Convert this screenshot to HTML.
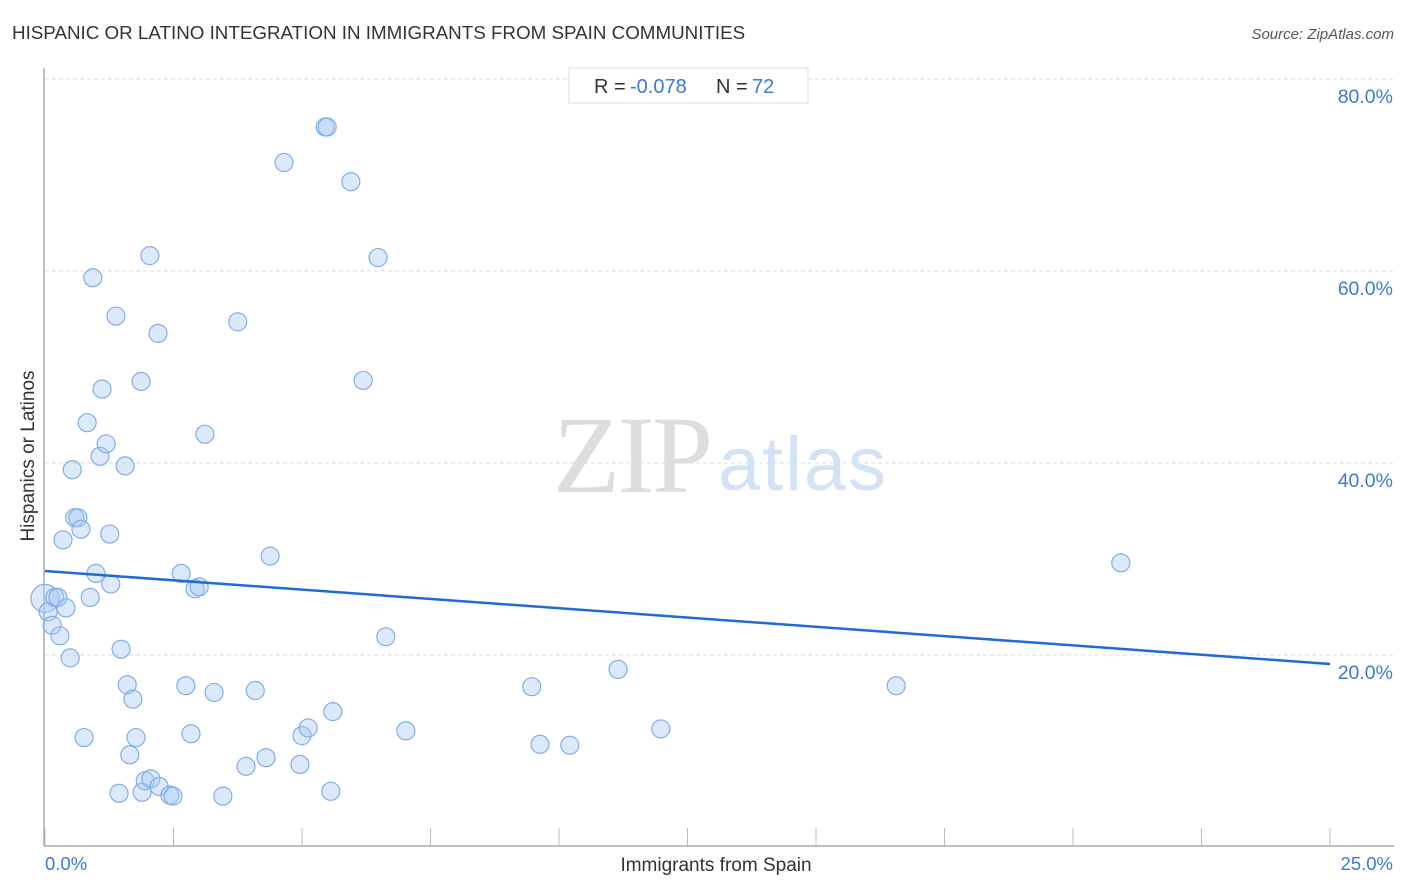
<!DOCTYPE html>
<html><head><meta charset="utf-8"><style>
body{margin:0;background:#fff;font-family:"Liberation Sans",sans-serif;}
svg{display:block}
</style></head><body>
<svg id="chart" width="1406" height="892">
<text x="12" y="39" font-size="18.8" fill="#333">HISPANIC OR LATINO INTEGRATION IN IMMIGRANTS FROM SPAIN COMMUNITIES</text>
<text x="1394" y="39" font-size="15" fill="#555" font-style="italic" text-anchor="end">Source: ZipAtlas.com</text>
<g id="grid"></g>
<text x="553" y="492" font-size="110" fill="#ddd" font-family="Liberation Serif,serif" textLength="160">ZIP</text>
<text x="718" y="490" font-size="76" fill="#d4e2f5" textLength="168">atlas</text>
<line x1="44" y1="68" x2="44" y2="846" stroke="#aaa" stroke-width="1.5"/>
<line x1="44" y1="846" x2="1394" y2="846" stroke="#aaa" stroke-width="1.5"/>
<g id="xticks"></g>
<g id="points"></g>
<line id="trend" stroke="#1f6ad6" stroke-width="2.5"/>
<g id="ylabels"></g>
<text x="45" y="870" font-size="18.5" fill="#3c78d8">0.0%</text>
<text x="1393" y="870" font-size="18.5" fill="#3c78d8" text-anchor="end">25.0%</text>
<text x="716" y="871" font-size="19" fill="#333" text-anchor="middle">Immigrants from Spain</text>
<text transform="translate(34,456) rotate(-90)" font-size="19" fill="#333" text-anchor="middle">Hispanics or Latinos</text>
<rect x="569" y="68" width="239" height="35" fill="#fff" stroke="#ddd"/>
<text y="93" font-size="20"><tspan x="594" fill="#333">R =</tspan><tspan x="630" fill="#3c78d8">-0.078</tspan><tspan x="716" fill="#333">N =</tspan><tspan x="752" fill="#3c78d8">72</tspan></text>
</svg>
<script>
const xs=[0.0,0.06,0.14,0.19,0.25,0.29,0.35,0.41,0.49,0.53,0.58,0.64,0.70,0.76,0.82,0.88,0.93,0.99,1.07,1.11,1.19,1.26,1.28,1.38,1.44,1.48,1.56,1.60,1.65,1.71,1.77,1.87,1.89,1.95,2.04,2.06,2.20,2.22,2.43,2.49,2.65,2.74,2.84,2.92,3.00,3.11,3.29,3.46,3.75,3.91,4.09,4.30,4.38,4.65,4.96,5.00,5.12,5.45,5.49,5.56,5.60,5.95,6.19,6.48,6.63,7.02,9.47,9.63,10.21,11.15,11.98,16.56,20.93];
const ys=[25.9,24.5,23.1,26.0,26.0,22.0,32.0,24.9,19.7,39.3,34.3,34.3,33.1,11.4,44.2,26.0,59.3,28.5,40.7,47.7,42.0,32.6,27.4,55.3,5.6,20.6,39.7,16.9,9.6,15.4,11.4,48.5,5.7,6.9,61.6,7.1,53.5,6.3,5.4,5.3,28.5,16.8,11.8,26.9,27.1,43.0,16.1,5.3,54.7,8.4,16.3,9.3,30.3,71.3,8.6,11.6,12.4,75.0,75.0,5.8,14.1,69.3,48.6,61.4,21.9,12.1,16.7,10.7,10.6,18.5,12.3,16.8,29.6];
const yTicks=[20,40,60,80];
const yTickLabels=["20.0%","40.0%","60.0%","80.0%"];
const trendStart=28.75, trendEnd=19.06;
const X=v=>45+v/25*1285, Y=v=>847-v*9.6;
const NS="http://www.w3.org/2000/svg";
const g=document.getElementById('grid'), yl=document.getElementById('ylabels');
yTicks.forEach((t,i)=>{
 const l=document.createElementNS(NS,'line');
 l.setAttribute('x1',45);l.setAttribute('x2',1394);l.setAttribute('y1',Y(t));l.setAttribute('y2',Y(t));
 l.setAttribute('stroke','#ddd');l.setAttribute('stroke-dasharray','4,3');
 
 
 g.appendChild(l);
 const tx=document.createElementNS(NS,'text');
 tx.setAttribute('x',1393);tx.setAttribute('y',Y(t)+24);tx.setAttribute('text-anchor','end');
 tx.setAttribute('font-size','19.5');tx.setAttribute('fill','#3c78d8');tx.textContent=yTickLabels[i];
 
 
 yl.appendChild(tx);
});
const xt=document.getElementById('xticks');
for(let i=0;i<=10;i++){
 const l=document.createElementNS(NS,'line');
 const x=X(i*2.5);
 l.setAttribute('x1',x);l.setAttribute('x2',x);l.setAttribute('y1',828);l.setAttribute('y2',846);
 l.setAttribute('stroke','#bbb');
 
 
 xt.appendChild(l);
}
const pg=document.getElementById('points');
xs.forEach((v,i)=>{
 const c=document.createElementNS(NS,'circle');
 c.setAttribute('cx',X(v));c.setAttribute('cy',Y(ys[i]));c.setAttribute('r',i===0?14:9);
 c.setAttribute('fill','rgba(170,202,242,0.42)');c.setAttribute('stroke','#82ade8');c.setAttribute('stroke-width','1.2');
 
 
 pg.appendChild(c);
});
const tr=document.getElementById('trend');
tr.setAttribute('x1',X(0));tr.setAttribute('y1',Y(trendStart));tr.setAttribute('x2',X(25));tr.setAttribute('y2',Y(trendEnd));
</script>
</body></html>
